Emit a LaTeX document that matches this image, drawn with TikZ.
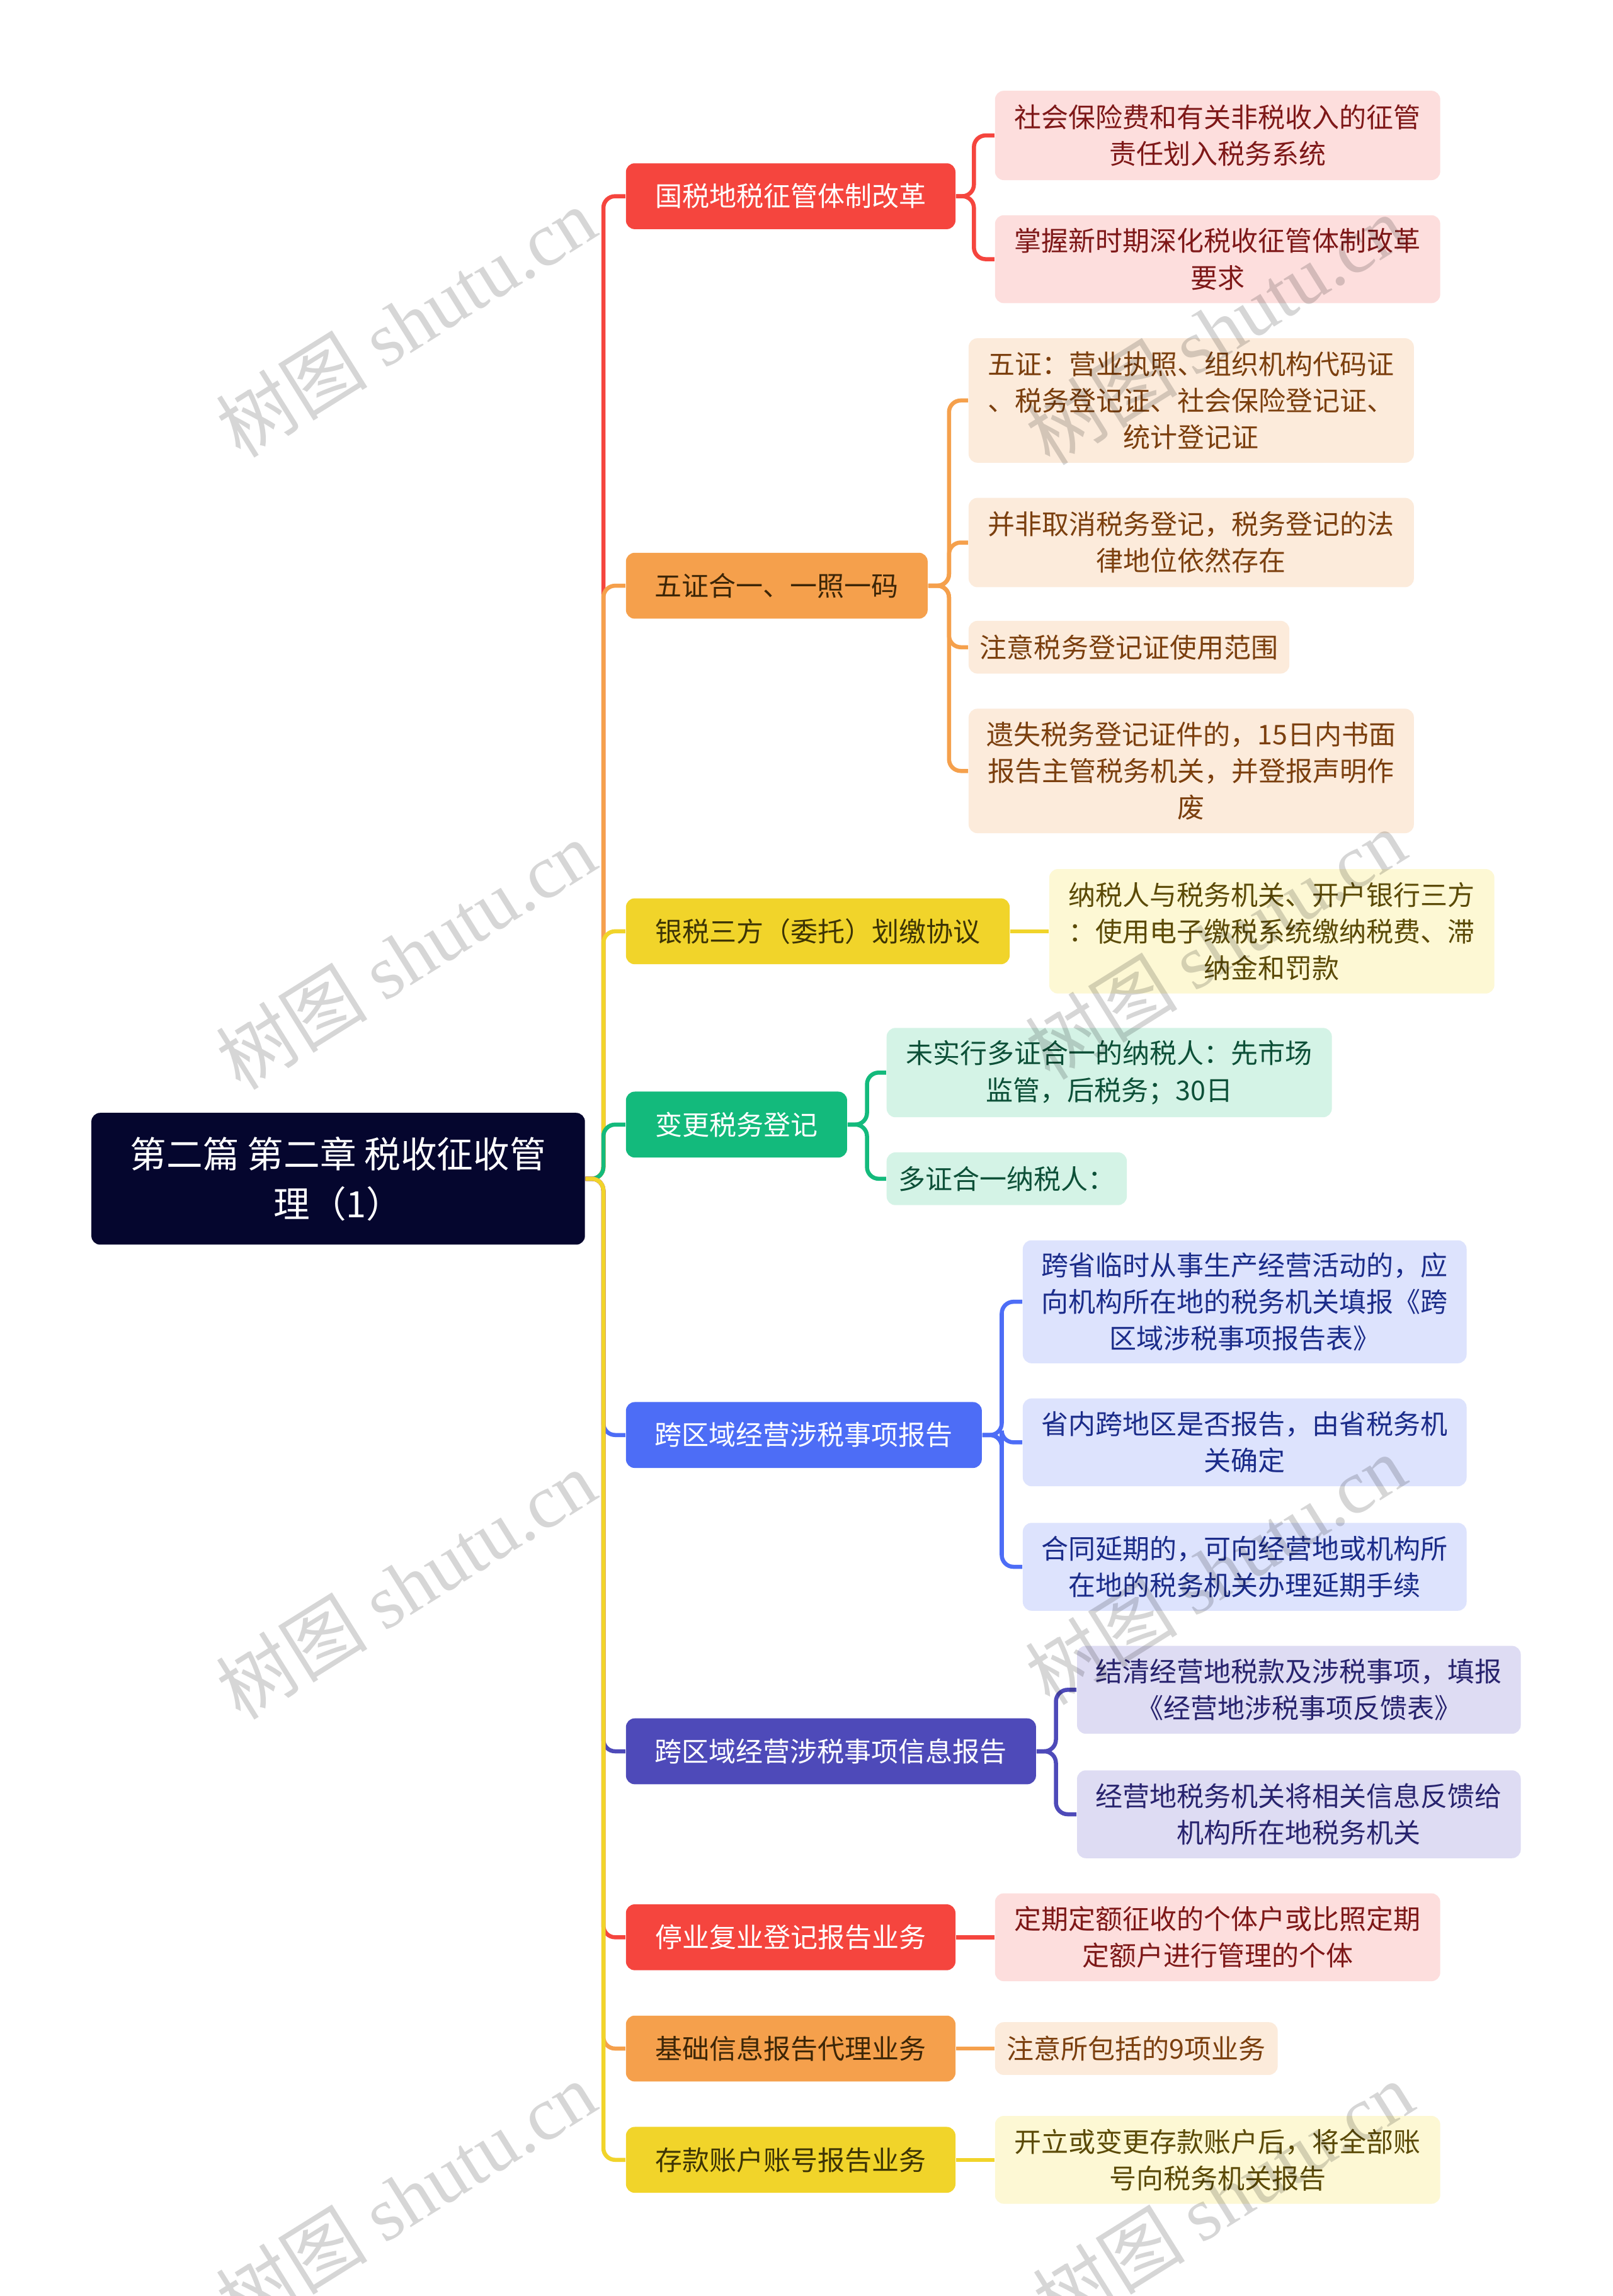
\documentclass[tikz,border=0pt]{standalone}
\usepackage{fontspec}
\setmainfont{Noto Sans CJK SC}
\newfontfamily\wmserif{Liberation Serif}
\pgfdeclarelayer{bg}
\pgfsetlayers{bg,main}
\definecolor{cRoot}{HTML}{05062E}
\definecolor{cRed}{HTML}{F5453E}
\definecolor{cOrange}{HTML}{F5A04C}
\definecolor{cYellow}{HTML}{F1D42A}
\definecolor{cGreen}{HTML}{13BA7C}
\definecolor{cBlue}{HTML}{4D6DF6}
\definecolor{cPurple}{HTML}{4E4AB9}
\definecolor{lRed}{HTML}{FDDEDD}
\definecolor{tRed}{HTML}{7E1818}
\definecolor{lOrange}{HTML}{FCEBDB}
\definecolor{tOrange}{HTML}{7B3F0E}
\definecolor{lYellow}{HTML}{FDF8D4}
\definecolor{tYellow}{HTML}{5B4A06}
\definecolor{lGreen}{HTML}{D4F3E6}
\definecolor{tGreen}{HTML}{0D5038}
\definecolor{lBlue}{HTML}{DDE3FD}
\definecolor{tBlue}{HTML}{1B2C8A}
\definecolor{lPurple}{HTML}{DEDCF3}
\definecolor{tPurple}{HTML}{28236E}
\definecolor{dOrange}{HTML}{3D2607}
\definecolor{dYellow}{HTML}{3D3405}
\begin{document}
\begin{tikzpicture}[x=0.5pt,y=-0.5pt,
  box/.style={rounded corners=3pt, inner sep=0pt, align=center, anchor=west},
  branch/.style={box, minimum height=22.5pt, font=\fontsize{9.25}{12.5}\selectfont},
  kid/.style={box, font=\fontsize{9.25}{12.5}\selectfont},
  bRed/.style={branch, fill=cRed, text=white},
  bOrange/.style={branch, fill=cOrange, text=dOrange},
  bYellow/.style={branch, fill=cYellow, text=dYellow},
  bGreen/.style={branch, fill=cGreen, text=white},
  bBlue/.style={branch, fill=cBlue, text=white},
  bPurple/.style={branch, fill=cPurple, text=white},
  kRed/.style={kid, fill=lRed, text=tRed},
  kOrange/.style={kid, fill=lOrange, text=tOrange},
  kYellow/.style={kid, fill=lYellow, text=tYellow},
  kGreen/.style={kid, fill=lGreen, text=tGreen},
  kBlue/.style={kid, fill=lBlue, text=tBlue},
  kPurple/.style={kid, fill=lPurple, text=tPurple},
  conn/.style={line width=1.4pt, rounded corners=4pt},
  wm/.style={rotate=32, text=black, opacity=0.16, font=\fontsize{26}{26}\selectfont},
]
\useasboundingbox (0,0) rectangle (1101,1568);

% root
\node[box, fill=cRoot, text=white, minimum width=168.5pt, minimum height=45pt,
  font=\fontsize{12.4}{17}\selectfont] (R) at (62,805) {第二篇 第二章 税收征收管\\理（1）};

% branches
\node[bRed, minimum width=112.5pt] (B1) at (427,134) {国税地税征管体制改革};
\node[bOrange, minimum width=103pt] (B2) at (427,400) {五证合一、一照一码};
\node[bYellow, minimum width=131pt] (B3) at (427,636) {银税三方（委托）划缴协议};
\node[bGreen, minimum width=75.5pt] (B4) at (427,768) {变更税务登记};
\node[bBlue, minimum width=121.5pt] (B5) at (427,980) {跨区域经营涉税事项报告};
\node[bPurple, minimum width=140pt] (B6) at (427,1196) {跨区域经营涉税事项信息报告};
\node[bRed, minimum width=112.5pt] (B7) at (427,1323) {停业复业登记报告业务};
\node[bOrange, minimum width=112.5pt] (B8) at (427,1399) {基础信息报告代理业务};
\node[bYellow, minimum width=112.5pt] (B9) at (427,1475) {存款账户账号报告业务};

% children
\node[kRed, minimum width=152pt, minimum height=30.5pt] (C11) at (679,92.5) {社会保险费和有关非税收入的征管\\责任划入税务系统};
\node[kRed, minimum width=152pt, minimum height=30pt] (C12) at (679,177) {掌握新时期深化税收征管体制改革\\要求};

\node[kOrange, minimum width=152pt, minimum height=42.5pt] (C21) at (661,273.5) {五证：营业执照、组织机构代码证\\、税务登记证、社会保险登记证、\\统计登记证};
\node[kOrange, minimum width=152pt, minimum height=30.5pt] (C22) at (661,370.5) {并非取消税务登记，税务登记的法\\律地位依然存在};
\node[kOrange, minimum width=109.5pt, minimum height=18pt] (C23) at (661,442) {注意税务登记证使用范围};
\node[kOrange, minimum width=152pt, minimum height=42.5pt] (C24) at (661,526.5) {遗失税务登记证件的，15日内书面\\报告主管税务机关，并登报声明作\\废};

\node[kYellow, minimum width=152pt, minimum height=42.5pt] (C31) at (716,636) {纳税人与税务机关、开户银行三方\\：使用电子缴税系统缴纳税费、滞\\纳金和罚款};

\node[kGreen, minimum width=152pt, minimum height=30.5pt] (C41) at (605,732.5) {未实行多证合一的纳税人：先市场\\监管，后税务；30日};
\node[kGreen, minimum width=82pt, minimum height=18pt] (C42) at (605,805) {多证合一纳税人：};

\node[kBlue, minimum width=151.5pt, minimum height=42pt] (C51) at (698,889) {跨省临时从事生产经营活动的，应\\向机构所在地的税务机关填报《跨\\区域涉税事项报告表》};
\node[kBlue, minimum width=151.5pt, minimum height=30pt] (C52) at (698,985) {省内跨地区是否报告，由省税务机\\关确定};
\node[kBlue, minimum width=151.5pt, minimum height=30pt] (C53) at (698,1070) {合同延期的，可向经营地或机构所\\在地的税务机关办理延期手续};

\node[kPurple, minimum width=151.5pt, minimum height=30pt] (C61) at (735,1154) {结清经营地税款及涉税事项，填报\\《经营地涉税事项反馈表》};
\node[kPurple, minimum width=151.5pt, minimum height=30pt] (C62) at (735,1239) {经营地税务机关将相关信息反馈给\\机构所在地税务机关};

\node[kRed, minimum width=152pt, minimum height=30pt] (C71) at (679,1323) {定期定额征收的个体户或比照定期\\定额户进行管理的个体};
\node[kOrange, minimum width=96.5pt, minimum height=18pt] (C81) at (679,1399) {注意所包括的9项业务};
\node[kYellow, minimum width=152pt, minimum height=30pt] (C91) at (679,1475) {开立或变更存款账户后，将全部账\\号向税务机关报告};

\begin{pgfonlayer}{bg}
\fill[white] (0,0) rectangle (1101,1568);
% trunk
\draw[conn, cRed] (R.east) -| ([xshift=-7.5pt]B1.west) -- (B1.west);
\draw[conn, cOrange] (R.east) -| ([xshift=-7.5pt]B2.west) -- (B2.west);
\draw[conn, cYellow] (R.east) -| ([xshift=-7.5pt]B3.west) -- (B3.west);
\draw[conn, cGreen] (R.east) -| ([xshift=-7.5pt]B4.west) -- (B4.west);
\draw[conn, cBlue] (R.east) -| ([xshift=-7.5pt]B5.west) -- (B5.west);
\draw[conn, cPurple] (R.east) -| ([xshift=-7.5pt]B6.west) -- (B6.west);
\draw[conn, cRed] (R.east) -| ([xshift=-7.5pt]B7.west) -- (B7.west);
\draw[conn, cOrange] (R.east) -| ([xshift=-7.5pt]B8.west) -- (B8.west);
\draw[conn, cYellow] (R.east) -| ([xshift=-7.5pt]B9.west) -- (B9.west);
% children connectors
\draw[conn, cRed] (B1.east) -| ([xshift=-7pt]C11.west) -- (C11.west);
\draw[conn, cRed] (B1.east) -| ([xshift=-7pt]C12.west) -- (C12.west);
\draw[conn, cOrange] (B2.east) -| ([xshift=-6.5pt]C21.west) -- (C21.west);
\draw[conn, cOrange] (B2.east) -| ([xshift=-6.5pt]C22.west) -- (C22.west);
\draw[conn, cOrange] (B2.east) -| ([xshift=-6.5pt]C23.west) -- (C23.west);
\draw[conn, cOrange] (B2.east) -| ([xshift=-6.5pt]C24.west) -- (C24.west);
\draw[conn, cYellow] (B3.east) -- (C31.west);
\draw[conn, cGreen] (B4.east) -| ([xshift=-6.5pt]C41.west) -- (C41.west);
\draw[conn, cGreen] (B4.east) -| ([xshift=-6.5pt]C42.west) -- (C42.west);
\draw[conn, cBlue] (B5.east) -| ([xshift=-7pt]C51.west) -- (C51.west);
\draw[conn, cBlue] (B5.east) -| ([xshift=-7pt]C52.west) -- (C52.west);
\draw[conn, cBlue] (B5.east) -| ([xshift=-7pt]C53.west) -- (C53.west);
\draw[conn, cPurple] (B6.east) -| ([xshift=-7pt]C61.west) -- (C61.west);
\draw[conn, cPurple] (B6.east) -| ([xshift=-7pt]C62.west) -- (C62.west);
\draw[conn, cRed] (B7.east) -- (C71.west);
\draw[conn, cOrange] (B8.east) -- (C81.west);
\draw[conn, cYellow] (B9.east) -- (C91.west);
\end{pgfonlayer}

% watermarks
\foreach \wx/\wy [count=\i] in {277/220, 277/652, 277/1082, 277/1500, 830/225, 830/645, 830/1072, 835/1500}{
  \node[wm] (W\i) at (\wx,\wy) {树图 {\wmserif shutu.cn}};
}
\end{tikzpicture}
\end{document}
